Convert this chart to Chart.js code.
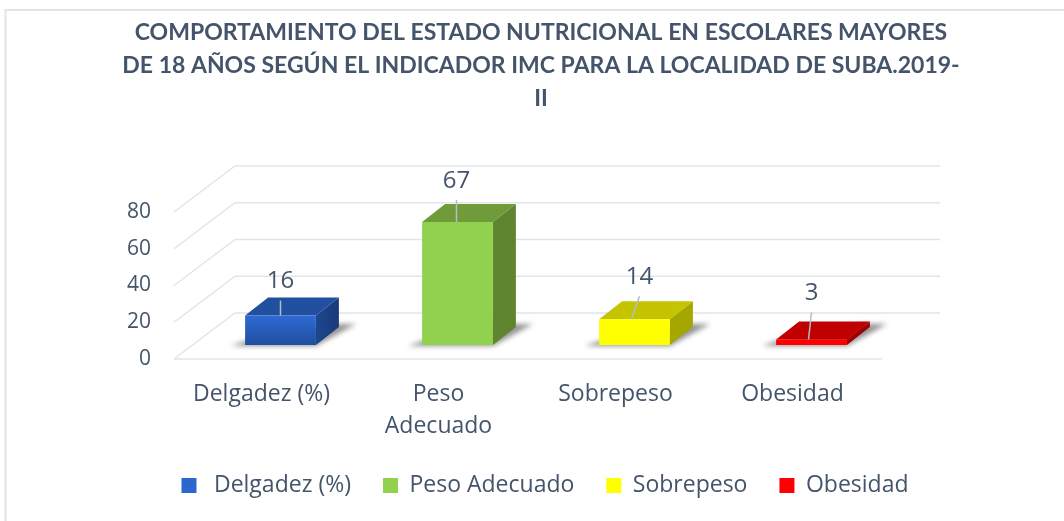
<!DOCTYPE html>
<html><head><meta charset="utf-8">
<script src="https://cdn.jsdelivr.net/npm/chart.js@4"></script>
<style>html,body{margin:0;padding:0;background:#fff}#w{width:1064px;height:521px;position:relative}</style>
</head><body><div id="w"><canvas id="c" width="1064" height="521"></canvas></div>
<script>
const categories = ["Delgadez (%)", ["Peso", "Adecuado"], "Sobrepeso", "Obesidad"];
const legendLabels = [" Delgadez (%)", "Peso Adecuado", "Sobrepeso", "Obesidad"];
const values = [16, 67, 14, 3];
const yTicks = [0, 20, 40, 60, 80];
const titleLines = ["COMPORTAMIENTO DEL ESTADO NUTRICIONAL EN ESCOLARES MAYORES", "DE 18 AÑOS SEGÚN EL INDICADOR IMC PARA LA LOCALIDAD DE SUBA.2019-", "II"];
const frontColors = ["#2C66CF", "#92D050", "#FFFF00", "#FF0000"];
const topColors = ["#20509F", "#6F9B3A", "#C4C400", "#C00000"];
const sideColors = ["#1A3F80", "#5F8530", "#A6A600", "#A00000"];
const textColor = "#44546A";
const gridColor = "#E1E5EB";
const wallDX = 61, wallDY = -46, barDX = 23, barDY = -18, offX = 18, offY = -14;
const bodyFont = "'Open Sans'";

function poly(ctx, pts, fill){ctx.beginPath();pts.forEach((p,i)=>i?ctx.lineTo(p[0],p[1]):ctx.moveTo(p[0],p[1]));ctx.closePath();ctx.fillStyle=fill;ctx.fill();}

const box3d = {
  id:'box3d',
  afterLayout(chart){
    const W=chart.width;
    const t=chart.titleBlock; t.left=541-W/2; t.right=541+W/2;
    const l=chart.legend, c=545, w=l.right-l.left; l.left=c-w/2; l.right=c+w/2;
  },
  beforeDraw(chart){
    const ctx=chart.ctx; ctx.save(); ctx.strokeStyle=gridColor; ctx.lineWidth=2;
    ctx.beginPath();ctx.moveTo(5.5,521);ctx.lineTo(5.5,10);ctx.lineTo(1064,10);ctx.stroke(); ctx.restore();
  },
  beforeDatasetsDraw(chart){
    const ctx=chart.ctx, y=chart.scales.y, a=chart.chartArea;
    ctx.save(); ctx.strokeStyle=gridColor; ctx.lineWidth=1.5;
    yTicks.forEach(v=>{
      const p=y.getPixelForValue(v);
      ctx.beginPath();
      ctx.moveTo(a.left,p); ctx.lineTo(a.left+wallDX,p+wallDY);
      ctx.lineTo(a.right+wallDX-3,p+wallDY);
      ctx.stroke();
    });
    const p0=y.getPixelForValue(0);
    ctx.beginPath();ctx.moveTo(a.left,p0);ctx.lineTo(a.right,p0);ctx.stroke();
    chart.getDatasetMeta(0).data.forEach((b,i)=>{
      const l=b.x-b.width/2+offX, r=b.x+b.width/2+offX, t=b.y+offY, bt=b.base+offY;
      ctx.save(); ctx.filter='blur(2.5px)';
      poly(ctx,[[l-14,bt+1],[r,bt+1],[r+barDX+17,bt+barDY-3],[r+barDX-10,bt+barDY-3],[l,bt-4]],'rgba(60,60,60,.55)');
      ctx.restore();
      poly(ctx,[[l,t],[r,t],[r+barDX,t+barDY],[l+barDX,t+barDY]],topColors[i]);
      let side=sideColors[i];
      if(i===0){side=ctx.createLinearGradient(r,0,r+barDX,0);side.addColorStop(0,'#1D478F');side.addColorStop(1,'#19397A');}
      poly(ctx,[[r,t],[r+barDX,t+barDY],[r+barDX,bt+barDY],[r,bt]],side);
    });
    ctx.restore();
    ctx.save(); ctx.translate(offX,offY);
  },
  afterDatasetsDraw(chart){
    const ctx=chart.ctx; ctx.restore();
    ctx.save();
    const baseX=[0,-1,-3,-3], topX=[0,-1,5,0], rise=[15,22,23,27];
    chart.getDatasetMeta(0).data.forEach((b,i)=>{
      const x=b.x+offX, t=b.y+offY;
      ctx.strokeStyle='#B4BCC8'; ctx.lineWidth=1.5;
      ctx.beginPath();ctx.moveTo(x+baseX[i],t);ctx.lineTo(x+topX[i],t-rise[i]);ctx.stroke();
      ctx.fillStyle=textColor; ctx.font="24px "+bodyFont; ctx.textAlign='center'; ctx.textBaseline='middle';
      ctx.fillText(String(values[i]),x+topX[i],t-rise[i]-19);
    });
    ctx.restore();
  }
};

new Chart(document.getElementById('c'),{
  type:'bar',
  data:{labels:categories,datasets:[{data:values,
    backgroundColor(c){
      if(c.dataIndex!==0||!c.chart.chartArea) return frontColors[c.dataIndex];
      const y=c.chart.scales.y;
      const g=c.chart.ctx.createLinearGradient(0,y.getPixelForValue(values[0]),0,y.getPixelForValue(0));
      g.addColorStop(0,'#2F6AD4');g.addColorStop(1,'#1F4E9E');return g;
    },
    barPercentage:0.4,categoryPercentage:1}]},
  plugins:[box3d],
  options:{
    responsive:false,animation:false,
    layout:{padding:{left:0,right:182,top:16,bottom:14}},
    plugins:{
      tooltip:{enabled:false},
      title:{display:true,text:titleLines,color:textColor,font:{family:"Lato",size:23,weight:'bold',lineHeight:1.435},padding:{top:0,bottom:97}},
      legend:{position:'bottom',labels:{
        color:textColor,font:{family:bodyFont,size:23},boxWidth:15,boxHeight:15,padding:32,
        generateLabels(){return legendLabels.map((t,i)=>({text:t,fillStyle:frontColors[i],strokeStyle:'transparent',lineWidth:0,fontColor:textColor,index:i}));}
      }}
    },
    scales:{
      y:{min:0,max:80,border:{display:false},grid:{display:false},
        afterBuildTicks(s){s.ticks=yTicks.map(v=>({value:v}));},
        afterFit(s){s.width=174;},
        ticks:{color:textColor,padding:15,font:{family:bodyFont,size:21}}},
      x:{border:{display:false},grid:{display:false},
        afterFit(s){s.height=83;},
        ticks:{color:textColor,padding:11,labelOffset:-1,maxRotation:0,autoSkip:false,font:{family:bodyFont,size:23,lineHeight:1.39}}}
    }
  }
});
</script></body></html>
